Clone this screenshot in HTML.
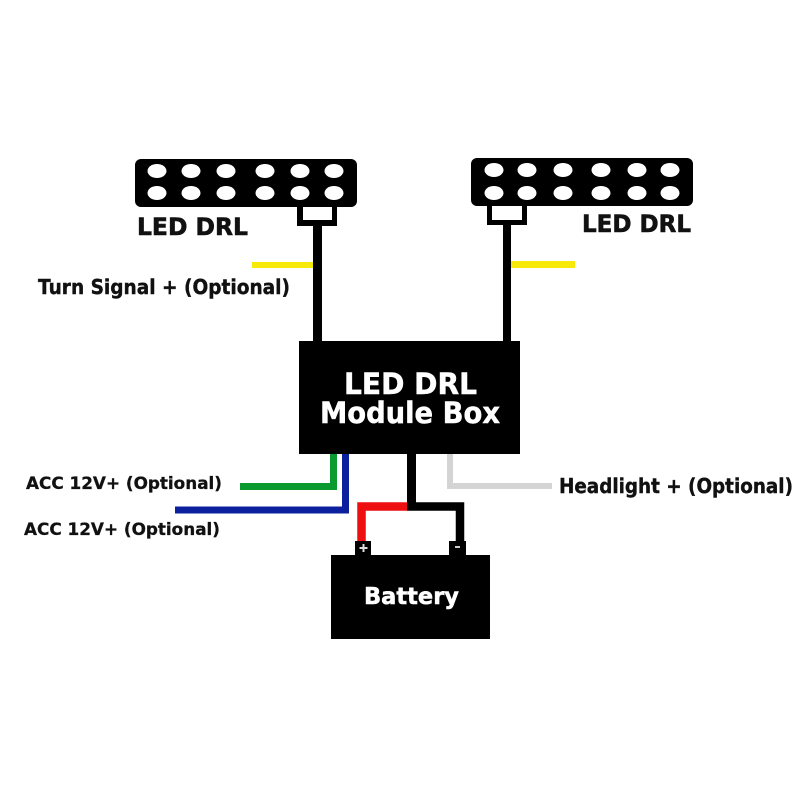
<!DOCTYPE html>
<html><head><meta charset="utf-8"><style>html,body{margin:0;padding:0;background:#fff}svg{display:block}text{font-family:"DejaVu Sans","Liberation Sans",sans-serif;font-weight:bold}</style></head><body>
<svg width="800" height="800" viewBox="0 0 800 800" xmlns="http://www.w3.org/2000/svg">
<rect width="800" height="800" fill="#fff"/>
<!-- left lamp -->
<rect x="135" y="159" width="222" height="48" rx="6" fill="#000"/>
<g fill="#fff"><ellipse cx="157" cy="171" rx="9.500" ry="7"/><ellipse cx="191" cy="171" rx="9.500" ry="7"/><ellipse cx="226" cy="171" rx="9.500" ry="7"/><ellipse cx="265" cy="171" rx="9.500" ry="7"/><ellipse cx="300" cy="171" rx="9.500" ry="7"/><ellipse cx="334" cy="171" rx="9.500" ry="7"/>
<ellipse cx="157" cy="193" rx="9.500" ry="7"/><ellipse cx="191" cy="193" rx="9.500" ry="7"/><ellipse cx="226" cy="193" rx="9.500" ry="7"/><ellipse cx="265" cy="193" rx="9.500" ry="7"/><ellipse cx="300" cy="193" rx="9.500" ry="7"/><ellipse cx="334" cy="193" rx="9.500" ry="7"/></g>
<rect x="297" y="207" width="40" height="19" fill="#000"/><rect x="303" y="207" width="29" height="13" fill="#fff"/>
<rect x="313" y="226" width="9" height="116" fill="#000"/>
<rect x="252" y="262" width="61" height="6" fill="#f7ea0b"/>
<!-- right lamp -->
<rect x="471" y="158" width="222" height="48" rx="6" fill="#000"/>
<g fill="#fff"><ellipse cx="494" cy="170" rx="9.500" ry="7"/><ellipse cx="527" cy="170" rx="9.500" ry="7"/><ellipse cx="563" cy="170" rx="9.500" ry="7"/><ellipse cx="601" cy="170" rx="9.500" ry="7"/><ellipse cx="637" cy="170" rx="9.500" ry="7"/><ellipse cx="670" cy="170" rx="9.500" ry="7"/>
<ellipse cx="494" cy="193" rx="9.500" ry="7"/><ellipse cx="527" cy="193" rx="9.500" ry="7"/><ellipse cx="563" cy="193" rx="9.500" ry="7"/><ellipse cx="601" cy="193" rx="9.500" ry="7"/><ellipse cx="637" cy="193" rx="9.500" ry="7"/><ellipse cx="670" cy="193" rx="9.500" ry="7"/></g>
<rect x="487" y="206" width="40" height="19" fill="#000"/><rect x="492" y="206" width="30" height="14" fill="#fff"/>
<rect x="503" y="225" width="8" height="117" fill="#000"/>
<rect x="511" y="261" width="64" height="7" fill="#f7ea0b"/>
<!-- module box -->
<rect x="299" y="341" width="221" height="113" fill="#000"/>
<text x="344" y="394" font-size="29" fill="#fff" stroke="#fff" stroke-width="0.5" textLength="133" lengthAdjust="spacingAndGlyphs">LED DRL</text>
<text x="320" y="423" font-size="29" fill="#fff" stroke="#fff" stroke-width="0.5" textLength="180" lengthAdjust="spacingAndGlyphs">Module Box</text>
<!-- wires -->
<path d="M240 486.500H333.500V454" fill="none" stroke="#0b9a30" stroke-width="7"/>
<path d="M175 510H345.500V454" fill="none" stroke="#0c1f9c" stroke-width="7"/>
<path d="M450 454V486H552" fill="none" stroke="#d4d4d4" stroke-width="6"/>
<rect x="407" y="454" width="9" height="52" fill="#000"/>
<path d="M407 506.500H361.500V541" fill="none" stroke="#ee0f10" stroke-width="8.500"/>
<path d="M407 506.500H460V541" fill="none" stroke="#000" stroke-width="8.500"/>
<!-- battery -->
<rect x="331" y="555" width="159" height="84" fill="#000"/>
<rect x="355" y="541" width="16" height="15" fill="#000"/>
<rect x="449" y="541" width="17" height="15" fill="#000"/>
<rect x="359.500" y="547" width="8" height="2" fill="#ddd"/><rect x="362.500" y="544" width="2" height="8" fill="#ddd"/>
<rect x="455" y="546" width="5" height="2" fill="#ccc"/>
<text x="364" y="604" font-size="23" fill="#fff" stroke="#fff" stroke-width="0.5" textLength="95" lengthAdjust="spacingAndGlyphs">Battery</text>
<!-- labels -->
<text x="137" y="235" font-size="24" fill="#111" stroke="#111" stroke-width="0.6" textLength="111" lengthAdjust="spacingAndGlyphs">LED DRL</text>
<text x="582" y="232" font-size="24" fill="#111" stroke="#111" stroke-width="0.6" textLength="109" lengthAdjust="spacingAndGlyphs">LED DRL</text>
<text x="38" y="294" font-size="20" fill="#111" stroke="#111" stroke-width="0.4" textLength="252" lengthAdjust="spacingAndGlyphs">Turn Signal + (Optional)</text>
<text x="26" y="489" font-size="16.500" fill="#111" stroke="#111" stroke-width="0.3" textLength="196" lengthAdjust="spacingAndGlyphs">ACC 12V+ (Optional)</text>
<text x="24" y="535" font-size="16.500" fill="#111" stroke="#111" stroke-width="0.3" textLength="196" lengthAdjust="spacingAndGlyphs">ACC 12V+ (Optional)</text>
<text x="559" y="493" font-size="20" fill="#111" stroke="#111" stroke-width="0.4" textLength="234" lengthAdjust="spacingAndGlyphs">Headlight + (Optional)</text>
</svg>
</body></html>
